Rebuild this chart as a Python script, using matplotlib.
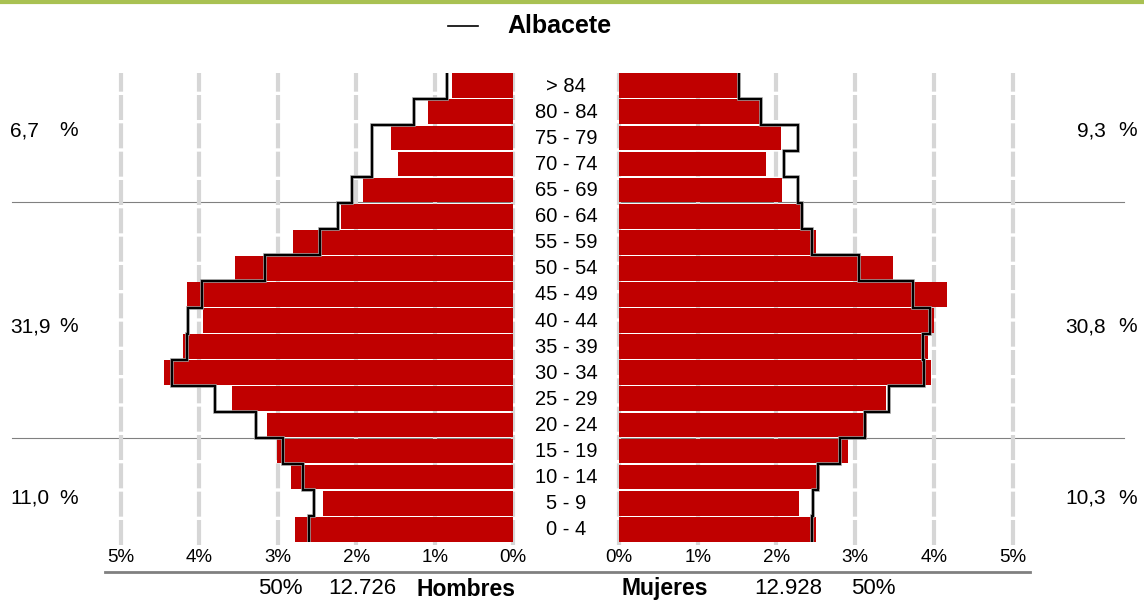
import numpy as np
import matplotlib
matplotlib.use('Agg')
import matplotlib.pyplot as plt

plt.rcParams['font.family'] = ['Liberation Sans', 'DejaVu Sans']

# grupos de edad, de abajo (0-4) a arriba (> 84)
edades = ['0 - 4', '5 - 9', '10 - 14', '15 - 19', '20 - 24', '25 - 29', '30 - 34',
          '35 - 39', '40 - 44', '45 - 49', '50 - 54', '55 - 59', '60 - 64',
          '65 - 69', '70 - 74', '75 - 79', '80 - 84', '> 84']

# % sobre el total (barras = municipio, linea = provincia Albacete)
hombres = [2.78, 2.42, 2.83, 3.01, 3.14, 3.58, 4.45, 4.21, 3.95, 4.16,
           3.55, 2.81, 2.19, 1.91, 1.47, 1.56, 1.09, 0.78]
hombres_ab = [2.61, 2.54, 2.68, 2.94, 3.28, 3.80, 4.35, 4.16, 4.14, 3.97,
              3.16, 2.47, 2.23, 2.06, 1.80, 1.80, 1.27, 0.84]
mujeres = [2.50, 2.29, 2.55, 2.91, 3.15, 3.39, 3.97, 3.92, 4.00, 4.17,
           3.48, 2.50, 2.32, 2.07, 1.87, 2.06, 1.80, 1.525]
mujeres_ab = [2.45, 2.47, 2.53, 2.81, 3.13, 3.43, 3.88, 3.86, 3.95, 3.74,
              3.05, 2.45, 2.33, 2.27, 2.10, 2.27, 1.81, 1.53]

ticks = [0, 1, 2, 3, 4, 5]
tick_labels = ['0%', '1%', '2%', '3%', '4%', '5%']

grupos_izq = ['6,7', '31,9', '11,0']
grupos_der = ['9,3', '30,8', '10,3']
total_h = '12.726'
total_m = '12.928'

W, H = 1144, 601
fig = plt.figure(figsize=(W / 100, H / 100), dpi=100)

# capa de fondo en pixeles para lineas y textos
bg = fig.add_axes([0, 0, 1, 1])
bg.set_xlim(0, W)
bg.set_ylim(H, 0)
bg.axis('off')

y_top, y_bot = 72.7, 542.3

def px_ax(x0, x1):
    return [x0 / W, 1 - y_bot / H, (x1 - x0) / W, (y_bot - y_top) / H]

axl = fig.add_axes(px_ax(121, 513.3))
axr = fig.add_axes(px_ax(619, 1012.5))

y = np.arange(len(edades))
edges = np.arange(len(edades) + 1) - 0.5
rojo = '#c00000'

for ax, barras, linea in [(axl, hombres, hombres_ab), (axr, mujeres, mujeres_ab)]:
    ax.set_facecolor('none')
    for t in ticks:
        ax.axvline(t, color='#d6d6d6', lw=3, ls=(0, (6, 0.8)), zorder=0,
                   ymin=-0.005, ymax=1.0, clip_on=False)
    ax.barh(y, barras, height=0.95, color=rojo, zorder=2)
    ax.stairs(linea, edges, orientation='horizontal', baseline=None,
              color='#999999', lw=2.6, zorder=3)
    ax.stairs(linea, edges, orientation='horizontal', baseline=None,
              color='black', lw=1.5, zorder=4)
    ax.set_ylim(-0.5, len(edades) - 0.5)
    ax.set_yticks([])
    ax.set_xticks([])
    for s in ax.spines.values():
        s.set_visible(False)

axl.set_xlim(5, 0)
axr.set_xlim(0, 5)

# etiquetas de los ejes
for t, lab in zip(ticks, tick_labels):
    bg.text(513.3 - t * 78.5, 558, lab, ha='center', va='center', fontsize=13.5)
    bg.text(619 + t * 78.7, 558, lab, ha='center', va='center', fontsize=13.5)

# grupos de edad en el centro
for i, e in enumerate(edades):
    yc = y_bot - (i + 0.5) * (y_bot - y_top) / len(edades)
    bg.text(566, yc + 0.5, e, ha='center', va='center', fontsize=14.5)

# lineas separadoras
for ys in [202, 438]:
    bg.plot([12, 514], [ys, ys], color='#808080', lw=0.8)
    bg.plot([619, 1124], [ys, ys], color='#808080', lw=0.8)

# totales por bloque
for lab, yy in zip(grupos_izq, [131, 327, 498]):
    bg.text(10, yy, lab, ha='left', va='center', fontsize=15)
    bg.text(78, yy, '%', ha='right', va='center', fontsize=15)
for lab, yy in zip(grupos_der, [131, 327, 498]):
    bg.text(1106, yy, lab, ha='right', va='center', fontsize=15)
    bg.text(1137, yy, '%', ha='right', va='center', fontsize=15)

# linea inferior y totales
bg.plot([105, 1030], [572, 572], color='#808080', lw=2)
bg.text(280, 589, '50%', ha='center', va='center', fontsize=16)
bg.text(362, 589, total_h, ha='center', va='center', fontsize=16)
bg.text(466, 589, 'Hombres', ha='center', va='center', fontsize=16.5, fontweight='bold')
bg.text(665, 589, 'Mujeres', ha='center', va='center', fontsize=16.5, fontweight='bold')
bg.text(788, 589, total_m, ha='center', va='center', fontsize=16)
bg.text(873, 589, '50%', ha='center', va='center', fontsize=16)

# cabecera
bg.plot([0, W], [2, 2], color='#a9c152', lw=3)
bg.plot([448, 478], [26, 26], color='black', lw=1.2)
bg.text(507, 26, 'Albacete', ha='left', va='center', fontsize=18, fontweight='bold')

fig.savefig('out.png', dpi=100)
